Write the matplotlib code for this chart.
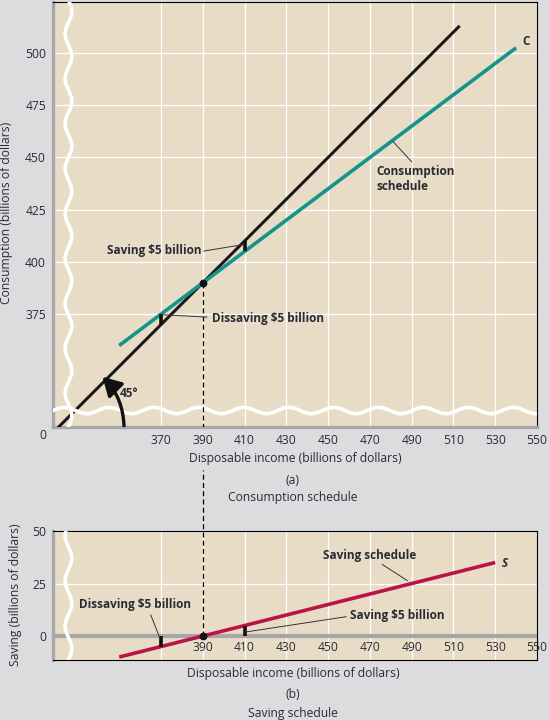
import numpy as np
import matplotlib
matplotlib.use("Agg")
import matplotlib.pyplot as plt
from matplotlib.patches import FancyArrowPatch

# ---------------- data ----------------
income_c = [350, 370, 390, 410, 430, 450, 470, 490, 510, 530, 540]
consumption = [360, 375, 390, 405, 420, 435, 450, 465, 480, 495, 502.5]
ref45_x = [300, 513]
ref45_y = [300, 513]
income_s = [350, 370, 390, 410, 430, 450, 470, 490, 510, 530]
saving = [-10, -5, 0, 5, 10, 15, 20, 25, 30, 35]
top_xticks = [370, 390, 410, 430, 450, 470, 490, 510, 530, 550]
top_yticks = [375, 400, 425, 450, 475, 500]
bot_xticks = [390, 410, 430, 450, 470, 490, 510, 530, 550]
bot_grid_x = [370, 390, 410, 430, 450, 470, 490, 510, 530]
bot_yticks = [0, 25, 50]
eq_income = 390
eq_consumption = 390
dis_income, dis_c45, dis_c = 370, 370, 375
sav_income, sav_c, sav_c45 = 410, 405, 410
dis_saving, sav_saving = -5, 5

# ---------------- styles ----------------
BG = "#dcdcdf"
FACE = "#e9dcc6"
GRAYSP = "#a7a7aa"
TEAL = "#12968c"
CRIMSON = "#bd1247"
TXT = "#2a2a36"
FONT = "Open Sans"
plt.rcParams['font.family'] = [FONT, 'DejaVu Sans']

W, H = 549, 720
fig = plt.figure(figsize=(W / 100, H / 100), dpi=100, facecolor=BG)


def fx(px):
    return px / W


def fy(py):
    return 1 - py / H


ax1 = fig.add_axes([fx(53), fy(427), fx(537) - fx(53), fy(2) - fy(427)])
ax2 = fig.add_axes([fx(53), fy(660), fx(537) - fx(53), fy(531) - fy(660)])
X0, X1 = 318.3, 550
ax1.set_xlim(X0, X1)
ax1.set_ylim(321.0, 524.4)
ax2.set_xlim(X0, X1)
ax2.set_ylim(-11.4, 50)

FS = 8.7
BFS = 8.5
for ax in (ax1, ax2):
    ax.set_facecolor(FACE)
    for s in ax.spines.values():
        s.set_color("black")
        s.set_linewidth(0.8)
    ax.spines['left'].set_color(GRAYSP)
    ax.spines['left'].set_linewidth(2.4)
    ax.tick_params(length=0, labelsize=FS, colors=TXT)
    ax.set_axisbelow(True)

ax1.spines['bottom'].set_color(GRAYSP)
ax1.spines['bottom'].set_linewidth(2.4)

# ---- top panel ----
ax1.set_xticks(top_xticks)
ax1.set_yticks(top_yticks)
ax1.tick_params(axis='x', pad=5)
ax1.tick_params(axis='y', pad=5)
ax1.grid(True, color='white', lw=0.9)
ax1.text(-0.021, -0.019, '0', transform=ax1.transAxes, ha='center',
         va='center', fontsize=FS, color=TXT)

ax1.plot(ref45_x, ref45_y, color='#1a1a1a', lw=2.2, zorder=3,
         solid_capstyle='butt')
ax1.plot(income_c, consumption, color=TEAL, lw=2.6, zorder=4,
         solid_capstyle='butt')

# break lines (wavy)
yy = np.linspace(321.0, 524.4, 600)
ax1.plot(325.7 + 1.6 * np.sin(2 * np.pi * (yy - 321) / 21.5), yy,
         color='white', lw=2.6, zorder=3.5)
xx = np.linspace(X0, X1, 800)
ax1.plot(xx, 328.9 + 1.5 * np.sin(2 * np.pi * (xx - X0) / 21.5),
         color='white', lw=2.6, zorder=3.5)

# markers
ax1.plot([dis_income, dis_income], [dis_c45, dis_c], color='#111', lw=2.6,
         zorder=5, solid_capstyle='butt')
ax1.plot([sav_income, sav_income], [sav_c, sav_c45], color='#111', lw=2.6,
         zorder=5, solid_capstyle='butt')
ax1.plot([eq_income, eq_income], [eq_consumption, 300], color='black',
         lw=0.9, ls=(0, (4, 2.6)), zorder=4.5)
ax1.plot([eq_income], [eq_consumption], 'o', color='#111', ms=4.6, zorder=6)

bold = dict(fontsize=BFS, fontweight='bold', color=TXT)
ax1.text(389.2, 405.7, 'Saving $5 billion', ha='right', va='center', **bold)
ax1.plot([390.5, 408.8], [405.2, 408.2], color='#333', lw=0.7, zorder=5)
ax1.text(394.4, 373.0, 'Dissaving $5 billion', ha='left', va='center', **bold)
ax1.plot([371.3, 392.0], [374.7, 373.6], color='#333', lw=0.7, zorder=5)
ax1.text(473.3, 439.6, 'Consumption\nschedule', ha='left', va='center',
         linespacing=1.25, **bold)
ax1.plot([481.2, 490.0], [457.5, 447.9], color='#333', lw=0.7, zorder=5)
ax1.text(544.7, 505.4, 'C', ha='center', va='center', fontsize=BFS,
         fontweight='bold', color=TXT)
ax1.text(350.4, 337.2, '45°', ha='left', va='center', fontsize=BFS,
         fontweight='bold', color=TXT)
arc = FancyArrowPatch(posA=(352.3, 321.0), posB=(342.0, 345.0),
                      connectionstyle='arc3,rad=0.2',
                      arrowstyle='-|>,head_length=0.7,head_width=0.4',
                      mutation_scale=16, lw=2.4, color='#111', zorder=5,
                      shrinkA=0, shrinkB=0)
ax1.add_patch(arc)

# ---- bottom panel ----
ax2.set_xticks(bot_grid_x)
ax2.set_yticks(bot_yticks)
ax2.tick_params(axis='x', labelbottom=False)
ax2.tick_params(axis='y', pad=5)
ax2.grid(True, color='white', lw=0.9)
ax2.axhline(0, color=GRAYSP, lw=3.0, zorder=2)
for t in bot_xticks:
    ax2.text(t, -5.6, str(t), ha='center', va='center', fontsize=FS,
             color=TXT, zorder=6)

yy2 = np.linspace(-11.4, 50, 300)
ax2.plot(325.7 + 1.6 * np.sin(2 * np.pi * (yy2 + 11.4) / 21.5), yy2,
         color='white', lw=2.6, zorder=3.5)

ax2.plot(income_s, saving, color=CRIMSON, lw=2.6, zorder=4,
         solid_capstyle='butt')
ax2.plot([dis_income, dis_income], [dis_saving, 0],
         color='#111', lw=2.6, zorder=5, solid_capstyle='butt')
ax2.plot([sav_income, sav_income], [0, sav_saving], color='#111',
         lw=2.6, zorder=5, solid_capstyle='butt')
ax2.plot([eq_income, eq_income], [0, 79], color='black', lw=0.9,
         ls=(0, (4, 2.6)), zorder=4.5, clip_on=False)
ax2.plot([eq_income], [0], 'o', color='#111', ms=4.6, zorder=6)

ax2.text(469.7, 38.2, 'Saving schedule', ha='center', va='center', **bold)
ax2.plot([475.9, 487.9], [34.1, 26.4], color='#333', lw=0.7, zorder=5)
ax2.text(534.7, 34.6, 'S', ha='center', va='center', fontsize=BFS,
         fontweight='bold', fontstyle='italic', color=TXT)
ax2.text(357.7, 14.8, 'Dissaving $5 billion', ha='center', va='center', **bold)
ax2.plot([365.1, 369.3], [10.0, -0.5], color='#333', lw=0.7, zorder=5)
ax2.text(460.5, 10.0, 'Saving $5 billion', ha='left', va='center', **bold)
ax2.plot([411.0, 458.6], [2.0, 9.2], color='#333', lw=0.7, zorder=5)

# ---- figure texts ----
fs = FS
fig.text(fx(7), fy(213), 'Consumption (billions of dollars)', rotation=90,
         ha='center', va='center', fontsize=fs, color=TXT)
fig.text(fx(16), fy(595), 'Saving (billions of dollars)', rotation=90,
         ha='center', va='center', fontsize=fs, color=TXT)
fig.text(fx(295.5), fy(459), 'Disposable income (billions of dollars)',
         ha='center', va='center', fontsize=fs, color=TXT)
fig.text(fx(293), fy(480), '(a)', ha='center', va='center', fontsize=fs,
         color=TXT)
fig.text(fx(293), fy(498), 'Consumption schedule', ha='center', va='center',
         fontsize=fs, color=TXT)
fig.text(fx(293), fy(674), 'Disposable income (billions of dollars)',
         ha='center', va='center', fontsize=fs, color=TXT)
fig.text(fx(293), fy(695), '(b)', ha='center', va='center', fontsize=fs,
         color=TXT)
fig.text(fx(293), fy(713), 'Saving schedule', ha='center', va='center',
         fontsize=fs, color=TXT)

fig.savefig('out.png', dpi=100, facecolor=BG)
